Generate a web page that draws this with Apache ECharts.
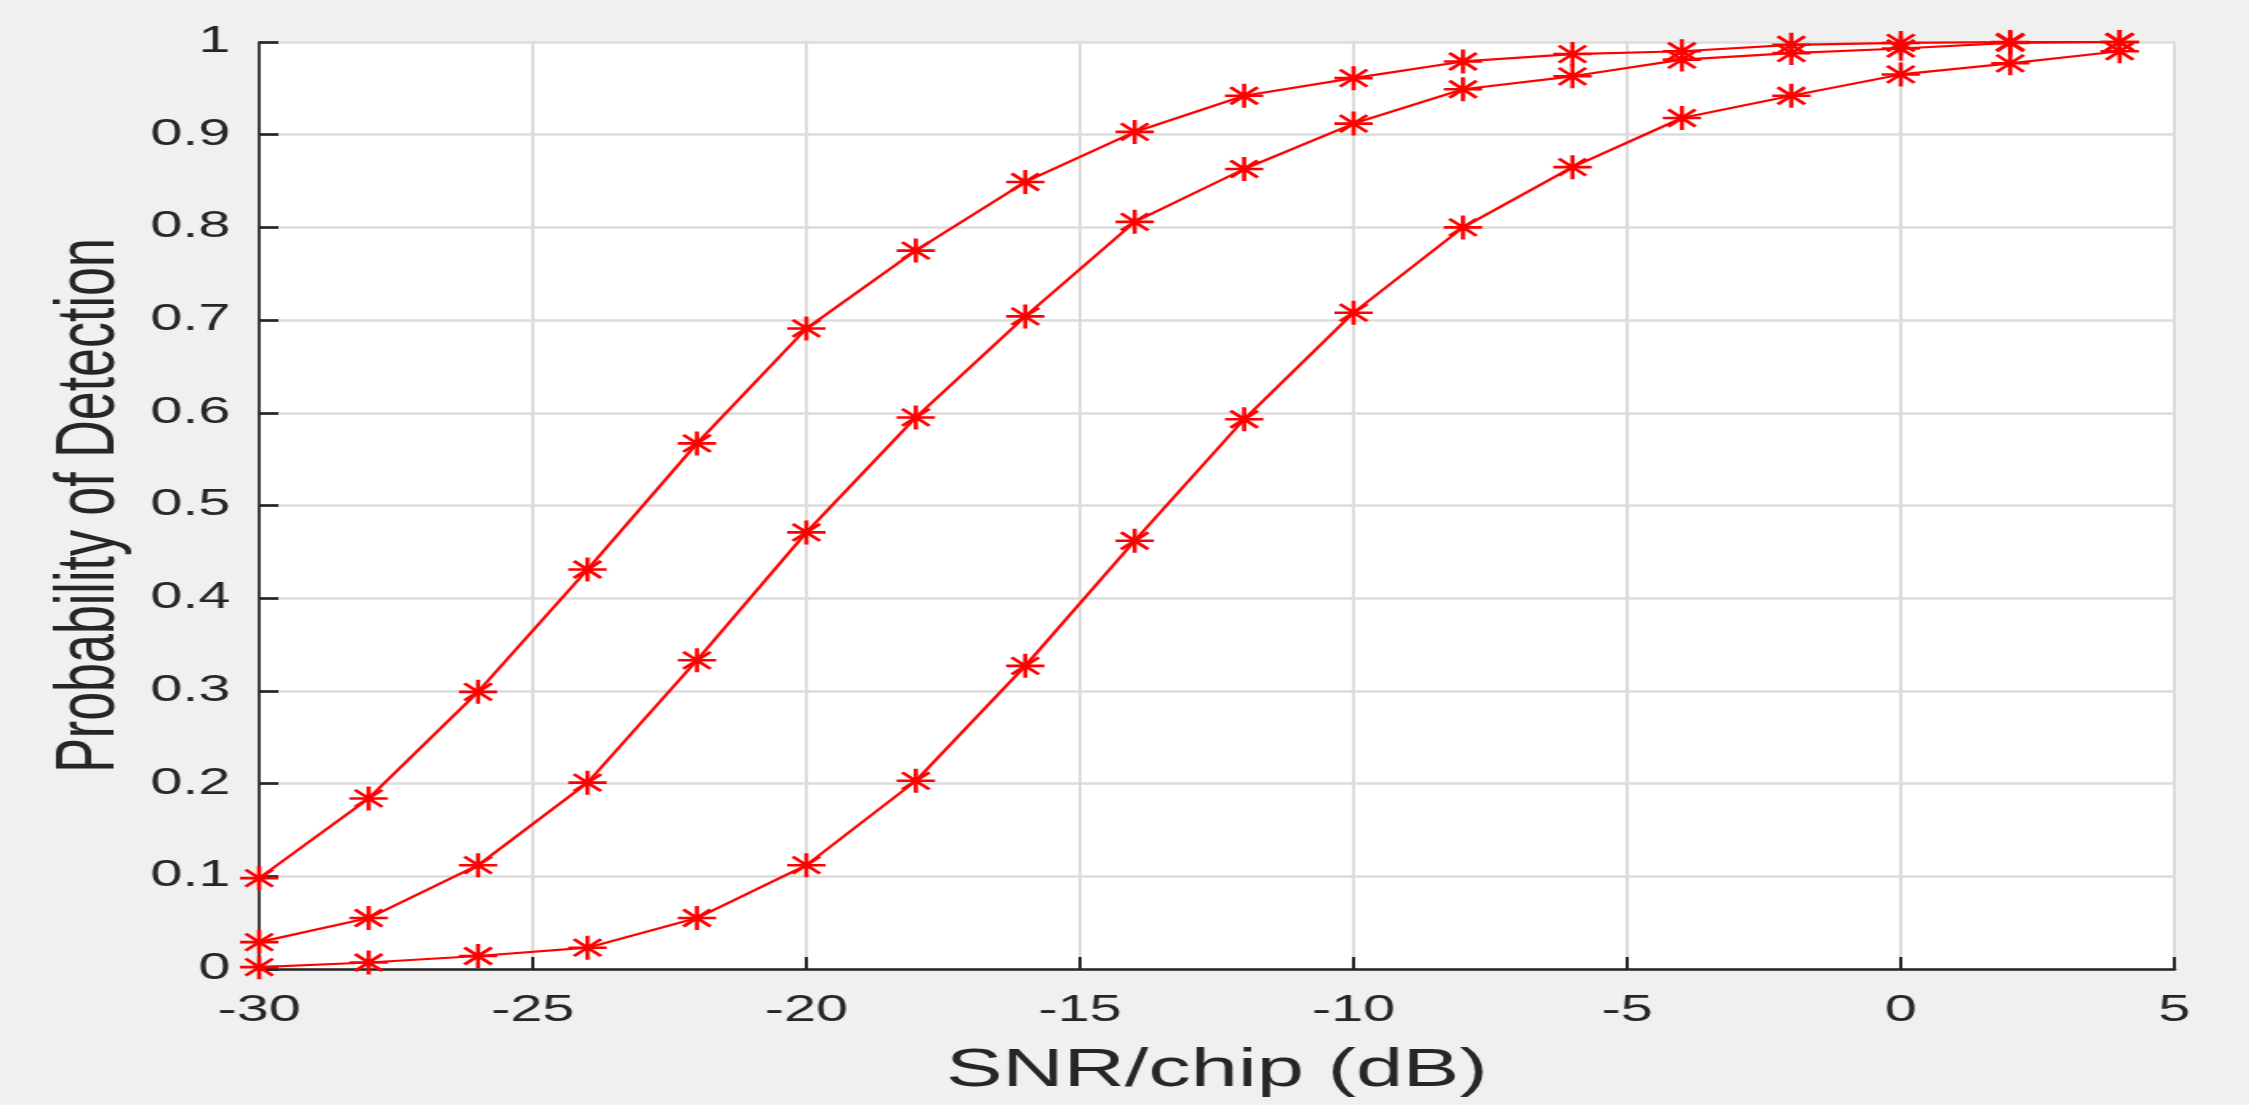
<!DOCTYPE html>
<html>
<head>
<meta charset="utf-8">
<title>Probability of Detection</title>
<script src="https://cdn.jsdelivr.net/npm/echarts@6/dist/echarts.min.js"></script>
<style>
  html, body { margin: 0; padding: 0; background: #f0f0f0; overflow: hidden; }
  /* the source figure is stretched horizontally, so draw narrow and scale */
  #main { width: 1406px; height: 1105px; transform: scaleX(1.6); transform-origin: 0 0; }
</style>
</head>
<body>
<div id="main"></div>
<script>
// SNR/chip (dB)
var snr = [-30, -28, -26, -24, -22, -20, -18, -16, -14, -12, -10, -8, -6, -4, -2, 0, 2, 4];

// probability of detection, one array per curve (left to right)
var pdA = [0.098, 0.184, 0.299, 0.431, 0.567, 0.691, 0.775, 0.849, 0.903, 0.942, 0.961, 0.979, 0.987, 0.990, 0.997, 0.999, 1.000, 1.000];
var pdB = [0.029, 0.055, 0.112, 0.201, 0.333, 0.471, 0.595, 0.704, 0.806, 0.863, 0.912, 0.949, 0.963, 0.981, 0.988, 0.993, 0.999, 1.000];
var pdC = [0.002, 0.007, 0.014, 0.023, 0.055, 0.112, 0.203, 0.327, 0.462, 0.593, 0.708, 0.800, 0.865, 0.918, 0.942, 0.965, 0.977, 0.990];

var xTicks = [-30, -25, -20, -15, -10, -5, 0, 5];
var yTicks = [0, 0.1, 0.2, 0.3, 0.4, 0.5, 0.6, 0.7, 0.8, 0.9, 1];

var font = 'Liberation Sans, Arial, Helvetica, sans-serif';
var ink = '#262626';
var star = 'path://M12 0 L12 24 M0 12 L24 12 M3.5 3.5 L20.5 20.5 M3.5 20.5 L20.5 3.5';

function makeSeries(values) {
  return {
    type: 'line',
    data: snr.map(function (x, i) { return [x, values[i]]; }),
    symbol: star,
    symbolSize: 24,
    showAllSymbol: true,
    clip: false,
    lineStyle: { color: '#ff0000', width: 2.2 },
    itemStyle: { color: '#ff0000', borderColor: '#ff0000', borderWidth: 2.6 }
  };
}

var myChart = echarts.init(document.getElementById('main'));
var option = {
  animation: false,
  backgroundColor: '#f0f0f0',
  grid: {
    left: 162,
    right: 47,
    top: 42,
    bottom: 136,
    show: true,
    backgroundColor: '#ffffff',
    borderWidth: 0
  },
  xAxis: {
    type: 'value',
    min: xTicks[0],
    max: xTicks[xTicks.length - 1],
    interval: 5,
    name: 'SNR/chip (dB)',
    nameLocation: 'middle',
    nameGap: 76,
    nameTextStyle: { fontFamily: font, fontSize: 53, color: ink },
    axisLine: { show: true, onZero: false, lineStyle: { color: ink, width: 2.7 } },
    axisTick: { show: true, inside: true, length: 12, lineStyle: { color: ink, width: 2 } },
    axisLabel: { fontFamily: font, fontSize: 36, color: ink, margin: 24 },
    splitLine: { show: true, lineStyle: { color: '#dcdcdc', width: 2 } }
  },
  yAxis: {
    type: 'value',
    min: yTicks[0],
    max: yTicks[yTicks.length - 1],
    interval: 0.1,
    name: 'Probability of Detection',
    nameLocation: 'middle',
    nameRotate: 90,
    nameGap: 78,
    nameTextStyle: { fontFamily: font, fontSize: 52, color: ink },
    axisLine: { show: true, onZero: false, lineStyle: { color: ink, width: 1.7 } },
    axisTick: { show: true, inside: true, length: 12, lineStyle: { color: ink, width: 2.7 } },
    axisLabel: { fontFamily: font, fontSize: 36, color: ink, margin: 18 },
    splitLine: { show: true, lineStyle: { color: '#dcdcdc', width: 2.5 } }
  },
  series: [makeSeries(pdA), makeSeries(pdB), makeSeries(pdC)]
};
myChart.setOption(option, true);
</script>
</body>
</html>
